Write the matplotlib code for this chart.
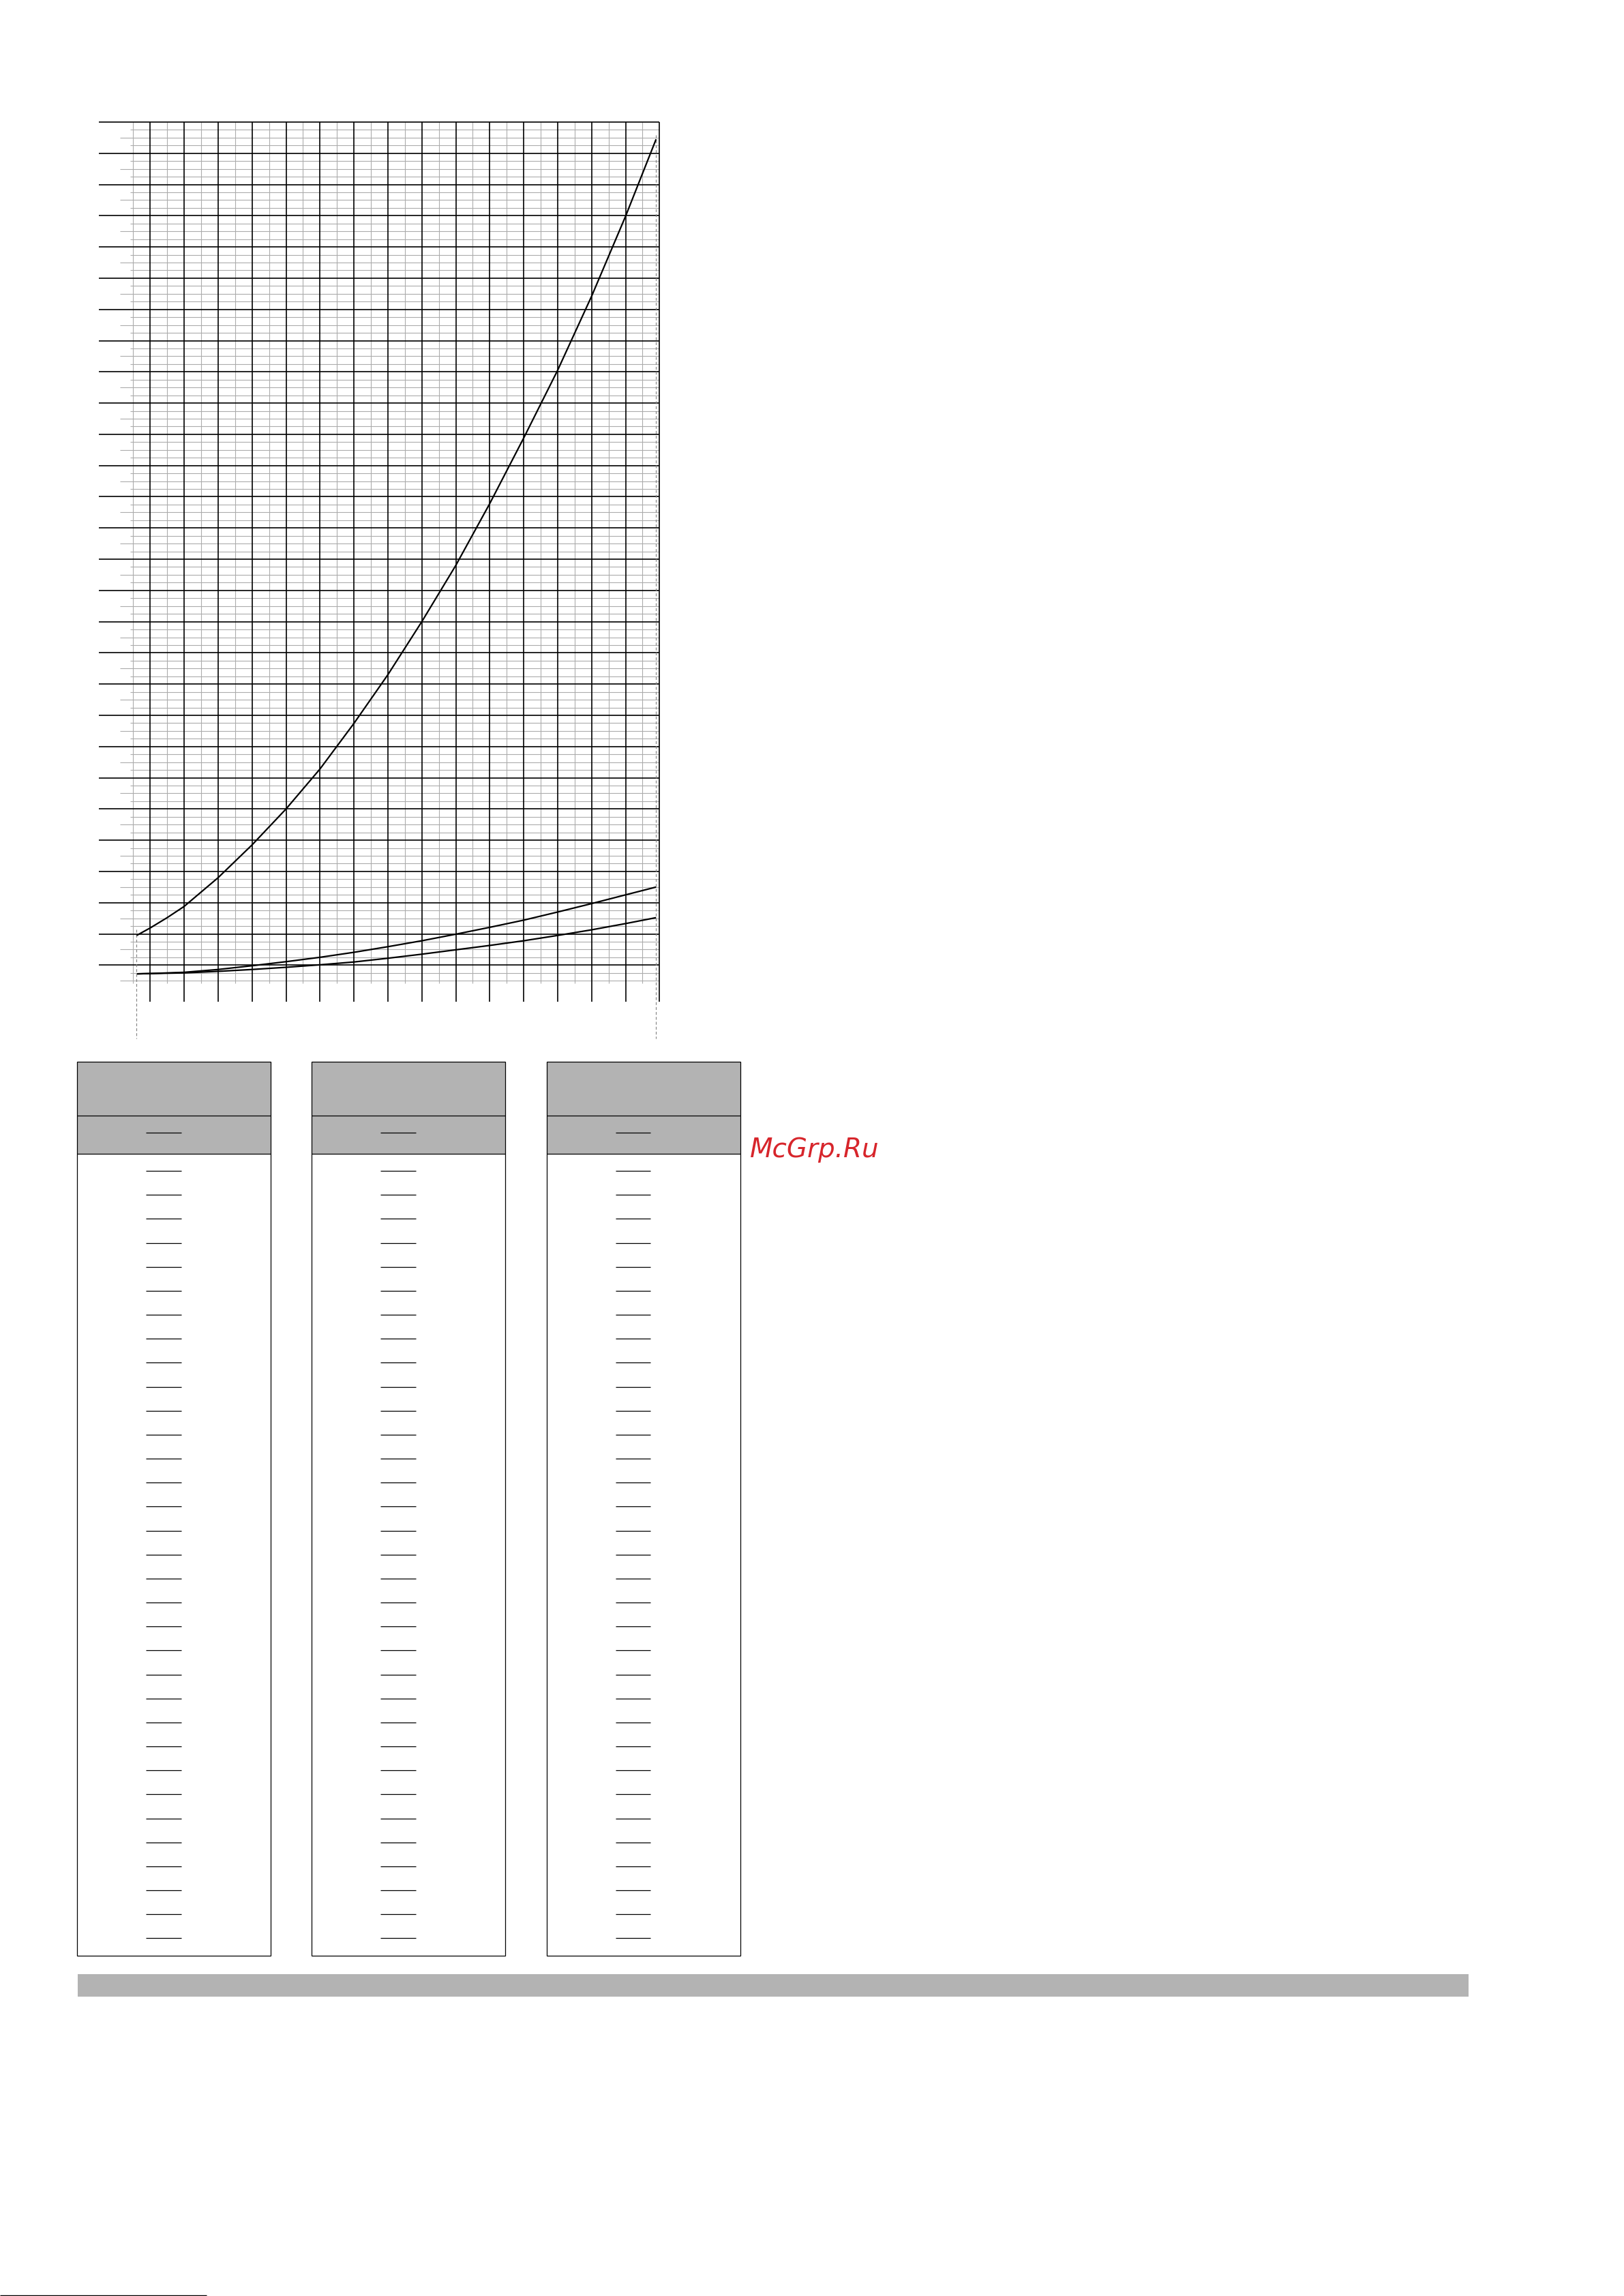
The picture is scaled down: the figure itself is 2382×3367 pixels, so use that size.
import numpy as np
import matplotlib
matplotlib.use("Agg")
import matplotlib.pyplot as plt
from matplotlib.patches import Rectangle

plt.rcParams['lines.scale_dashes'] = False

# ---------------- data (chart grid units) ----------------
curve_a_x = [-0.40, 0, 0.5, 1, 1.5, 2, 3, 4, 5, 6, 7, 8, 9, 10, 11, 12, 13, 14, 14.9]
curve_a_y = [0.95, 1.19, 1.52, 1.88, 2.34, 2.80, 3.85, 5.00, 6.28, 7.74, 9.30, 11.0, 12.8,
             14.78, 16.88, 19.05, 21.42, 23.98, 26.45]

curve_b_x = [-0.39, 0, 1, 2, 3, 4, 5, 6, 7, 8, 9, 10, 11, 12, 13, 14, 14.9]
curve_b_y = [-0.28, -0.27, -0.23, -0.14, -0.02, 0.11, 0.25, 0.41, 0.59, 0.78,
             0.99, 1.21, 1.44, 1.70, 1.97, 2.25, 2.50]

curve_c_x = [-0.39, 0, 1, 2, 3, 4, 5, 6, 7, 8, 9, 10, 11, 12, 13, 14, 14.9]
curve_c_y = [-0.28, -0.27, -0.25, -0.20, -0.14, -0.07, 0.01, 0.10, 0.22, 0.35,
             0.49, 0.63, 0.78, 0.95, 1.13, 1.33, 1.52]

major_x = np.arange(0, 16)          # black verticals
minor_x = np.arange(-0.5, 15, 1.0)  # grey verticals
major_y = np.arange(0, 28)          # black horizontals
quarter_y = np.arange(-0.5, 27, 0.25)
half_y = [v for v in quarter_y if abs(v - round(v)) == 0.5]
qtr_y = [v for v in quarter_y if abs(v - round(v)) == 0.25]

n_tables = 3
n_rows = 33

# ---------------- figure ----------------
W, H, DPI = 2382, 3367, 100
fig = plt.figure(figsize=(W / DPI, H / DPI), dpi=DPI)
fig.patch.set_facecolor('white')

page = fig.add_axes([0, 0, 1, 1])
page.set_xlim(0, W)
page.set_ylim(H, 0)
page.axis('off')

# chart axes mapped to pixel grid
X0, SX = 220.3, 49.8
Y0, SY = 1415.3, 45.79
xl = (-1.6, 15.2)
yl = (-2.5, 27.2)
left = X0 + SX * xl[0]
right = X0 + SX * xl[1]
top = Y0 - SY * yl[1]
bottom = Y0 - SY * yl[0]
ax = fig.add_axes([left / W, 1 - bottom / H, (right - left) / W, (bottom - top) / H])
ax.set_xlim(*xl)
ax.set_ylim(*yl)
ax.axis('off')

grey = '#acacac'
lw_grey = 0.8
lw_black = 1.2

x_right = major_x[-1]
y_top = major_y[-1]
ax.hlines(qtr_y, -0.588, x_right, color=grey, lw=lw_grey, zorder=1)
ax.hlines(half_y, -0.88, x_right, color=grey, lw=lw_grey, zorder=1)
ax.vlines(minor_x, -0.58, y_top, color=grey, lw=lw_grey, zorder=1)
ax.hlines(major_y, -1.512, x_right, color='black', lw=lw_black, zorder=2)
ax.vlines(major_x, -1.173, y_top, color='black', lw=lw_black, zorder=2)

# dashed markers at curve ends
ax.plot([curve_a_x[0]] * 2, [curve_a_y[0] + 0.19, -2.35], color='#808080', lw=0.8,
        ls=(0, (3.0, 2.2)), zorder=3)
ax.plot([curve_a_x[-1]] * 2, [curve_a_y[-1] + 0.13, -2.35], color='#808080', lw=0.8,
        ls=(0, (3.0, 2.2)), zorder=3)

for cx, cy in [(curve_a_x, curve_a_y), (curve_b_x, curve_b_y), (curve_c_x, curve_c_y)]:
    ax.plot(cx, cy, color='black', lw=1.6, solid_capstyle='butt',
            solid_joinstyle='round', zorder=4)

# ---------------- tables ----------------
tbl_left0, tbl_step, tbl_w = 113.3, 344.1, 284.0
tbl_top, hdr_div, sub_div, tbl_bot = 1557.3, 1636.3, 1692.3, 2868.0
sub_dash_y = 1661.0
row_dash0, row_step = 1717.0, 35.17
dash_off, dash_w = 101.0, 51.5
fill = '#b3b3b3'

for t in range(n_tables):
    x = tbl_left0 + t * tbl_step
    page.add_patch(Rectangle((x, tbl_top), tbl_w, sub_div - tbl_top, facecolor=fill,
                             edgecolor='none', zorder=1))
    page.add_patch(Rectangle((x, tbl_top), tbl_w, tbl_bot - tbl_top, facecolor='none',
                             edgecolor='black', lw=0.9, zorder=3))
    page.hlines([hdr_div, sub_div], x, x + tbl_w, color='black', lw=0.9, zorder=3)
    ys = [sub_dash_y] + [row_dash0 + k * row_step for k in range(n_rows)]
    page.hlines(ys, x + dash_off, x + dash_off + dash_w, color='black', lw=0.9, zorder=3)

# grey footer bar
page.add_patch(Rectangle((113.5, 2895), 2040.5, 33, facecolor=fill, edgecolor='none'))

# bottom rule
page.hlines([3365.5], 0, 303, color='black', lw=1.0)

# watermark
page.text(1100, 1697, 'McGrp.Ru', fontsize=28, style='italic', color='#d7252b',
          ha='left', va='baseline', family='DejaVu Sans')

fig.savefig('out.png', dpi=DPI, facecolor='white')
